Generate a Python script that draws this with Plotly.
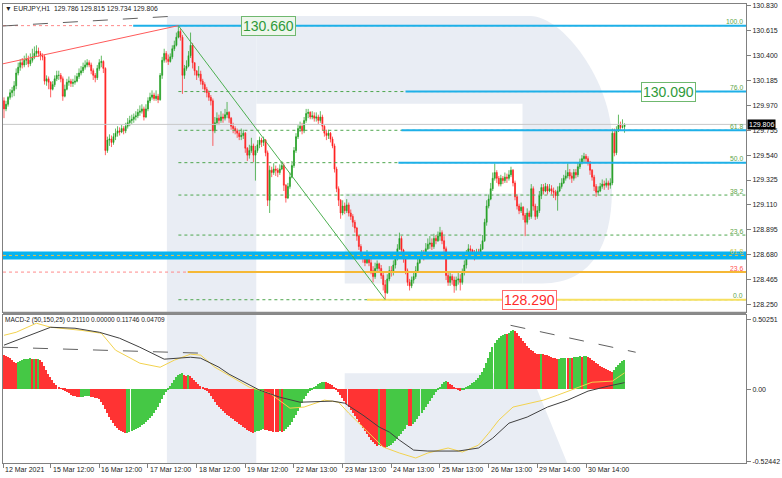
import plotly.graph_objects as go

# ---------------- data ----------------
first_open = 130.01
close = [
129.94,129.98,130.04,130.08,130.10,130.14,130.25,130.30,130.34,130.32,
130.36,130.37,130.33,130.36,130.39,130.42,130.44,130.42,130.40,130.39,
130.18,130.20,130.17,130.11,130.15,130.20,130.23,130.23,130.20,130.05,
130.11,130.17,130.18,130.16,130.17,130.18,130.22,130.25,130.27,130.30,
130.32,130.34,130.32,130.27,130.23,130.21,130.29,130.34,130.35,130.29,
129.58,129.67,129.68,129.65,129.70,129.73,129.75,129.74,129.77,129.75,
129.79,129.82,129.84,129.85,129.87,129.88,129.91,129.92,129.94,129.87,
129.94,130.01,130.04,130.06,130.03,130.05,130.02,130.23,130.36,130.42,
130.37,130.35,130.39,130.46,130.49,130.56,130.61,130.56,130.23,130.29,
130.31,130.40,130.49,130.34,130.27,130.23,130.24,130.18,130.15,130.11,
130.08,130.04,130.01,129.75,129.82,129.86,129.84,129.87,129.86,129.89,
129.91,129.86,129.79,129.77,129.75,129.73,129.70,129.71,129.73,129.60,
129.54,129.58,129.62,129.54,129.58,129.63,129.67,129.65,129.67,129.56,
129.15,129.41,129.39,129.42,129.41,129.39,129.42,129.45,129.28,129.17,
129.27,129.35,129.45,129.58,129.70,129.77,129.79,129.75,129.84,129.90,
129.91,129.87,129.88,129.86,129.87,129.84,129.87,129.79,129.73,129.71,
129.73,129.68,129.62,129.42,129.25,129.15,129.04,129.10,129.06,129.11,
129.04,129.01,128.96,128.91,128.84,128.75,128.67,128.65,128.61,128.67,
128.61,128.54,128.49,128.56,128.60,128.56,128.50,128.42,128.35,128.47,
128.54,128.53,128.59,128.65,128.73,128.82,128.72,128.65,128.54,128.44,
128.41,128.46,128.49,128.54,128.61,128.66,128.68,128.66,128.73,128.77,
128.78,128.75,128.82,128.80,128.84,128.87,128.80,128.73,128.50,128.44,
128.49,128.46,128.41,128.46,128.47,128.44,128.53,128.59,128.67,128.73,
128.72,128.68,128.66,128.70,128.68,128.73,128.80,128.96,129.10,129.16,
129.25,129.34,129.39,129.34,129.29,129.34,129.32,129.35,129.34,129.37,
129.41,129.30,129.18,129.10,129.06,129.09,129.02,128.96,129.04,129.01,
129.25,129.10,129.01,129.06,129.19,129.26,129.23,129.27,129.23,129.25,
129.23,129.22,129.19,129.23,129.27,129.30,129.34,129.36,129.39,129.36,
129.34,129.39,129.37,129.44,129.48,129.51,129.53,129.51,129.48,129.41,
129.35,129.27,129.22,129.23,129.27,129.29,129.28,129.30,129.28,129.30,
129.73,129.56,129.75,129.80,129.78,129.786,129.806]
high = [
130.04,130.01,130.05,130.11,130.13,130.18,130.29,130.34,130.37,130.38,
130.40,130.42,130.40,130.42,130.46,130.48,130.49,130.47,130.44,130.42,
130.41,130.23,130.22,130.18,130.18,130.23,130.27,130.27,130.25,130.22,
130.15,130.20,130.22,130.20,130.20,130.23,130.25,130.29,130.31,130.34,
130.36,130.37,130.36,130.34,130.29,130.25,130.32,130.37,130.40,130.36,
130.30,129.70,129.72,129.71,129.73,129.77,129.79,129.78,129.80,129.79,
129.82,129.86,129.88,129.89,129.90,129.92,129.94,129.97,129.98,129.96,
129.98,130.04,130.08,130.10,130.08,130.10,130.07,130.25,130.39,130.46,
130.44,130.41,130.42,130.49,130.53,130.60,130.66,130.63,130.58,130.32,
130.36,130.44,130.60,130.51,130.34,130.27,130.31,130.27,130.20,130.17,
130.13,130.10,130.06,130.03,129.87,129.91,129.89,129.92,129.90,129.94,
130.00,129.92,129.87,129.82,129.79,129.77,129.75,129.77,129.76,129.74,
129.61,129.63,129.69,129.64,129.62,129.67,129.70,129.69,129.70,129.68,
129.58,129.45,129.44,129.47,129.45,129.43,129.46,129.49,129.47,129.29,
129.30,129.39,129.49,129.61,129.73,129.80,129.83,129.82,129.87,129.94,
129.94,129.92,129.92,129.91,129.91,129.89,129.92,129.89,129.80,129.76,
129.76,129.74,129.70,129.64,129.44,129.27,129.16,129.15,129.13,129.16,
129.13,129.07,129.03,128.98,128.92,128.85,128.77,128.70,128.67,128.72,
128.70,128.65,128.58,128.61,128.63,128.61,128.59,128.53,128.46,128.51,
128.58,128.58,128.63,128.68,128.77,128.87,128.84,128.73,128.66,128.56,
128.47,128.49,128.53,128.58,128.65,128.70,128.72,128.72,128.78,128.82,
128.84,128.82,128.86,128.85,128.88,128.92,128.89,128.84,128.75,128.53,
128.53,128.51,128.49,128.49,128.53,128.51,128.56,128.63,128.72,128.77,
128.76,128.73,128.72,128.73,128.73,128.77,128.85,128.99,129.15,129.20,
129.30,129.39,129.47,129.41,129.36,129.37,129.36,129.39,129.38,129.41,
129.44,129.42,129.32,129.20,129.12,129.13,129.10,129.04,129.08,129.06,
129.29,129.27,129.12,129.10,129.23,129.29,129.29,129.30,129.29,129.29,
129.28,129.26,129.24,129.27,129.30,129.34,129.37,129.41,129.47,129.42,
129.39,129.42,129.42,129.48,129.51,129.54,129.56,129.55,129.53,129.49,
129.42,129.37,129.29,129.27,129.30,129.33,129.32,129.34,129.32,129.34,
129.77,129.77,129.79,129.89,129.83,129.85,129.815]
low = [
129.86,129.92,129.96,130.02,130.04,130.05,130.11,130.23,130.27,130.29,
130.30,130.32,130.30,130.31,130.34,130.37,130.39,130.39,130.36,130.36,
130.15,130.14,130.11,130.04,130.10,130.13,130.18,130.19,130.17,130.01,
130.04,130.10,130.14,130.13,130.13,130.15,130.17,130.20,130.23,130.25,
130.28,130.30,130.30,130.24,130.19,130.17,130.19,130.27,130.30,130.25,
129.54,129.56,129.62,129.61,129.63,129.67,129.70,129.71,129.73,129.72,
129.73,129.77,129.79,129.81,129.82,129.84,129.86,129.88,129.90,129.84,
129.86,129.92,129.99,130.02,130.01,130.01,129.99,130.01,130.20,130.34,
130.34,130.32,130.34,130.37,130.44,130.48,130.55,130.53,130.07,130.20,
130.27,130.30,130.38,130.29,130.23,130.19,130.21,130.15,130.11,130.08,
130.04,130.01,129.97,129.62,129.73,129.80,129.80,129.82,129.82,129.84,
129.86,129.82,129.76,129.73,129.72,129.69,129.67,129.67,129.68,129.56,
129.49,129.51,129.56,129.48,129.32,129.56,129.60,129.61,129.62,129.53,
129.10,129.04,129.35,129.37,129.36,129.35,129.37,129.41,129.23,129.13,
129.16,129.25,129.34,129.43,129.56,129.68,129.74,129.72,129.73,129.82,
129.86,129.85,129.85,129.83,129.83,129.81,129.82,129.75,129.70,129.67,
129.68,129.65,129.60,129.39,129.22,129.10,128.99,129.02,129.03,129.04,
129.01,128.98,128.92,128.87,128.80,128.72,128.65,128.61,128.58,128.60,
128.58,128.51,128.44,128.47,128.53,128.53,128.47,128.37,128.29,128.34,
128.45,128.49,128.50,128.56,128.63,128.72,128.68,128.61,128.51,128.41,
128.37,128.39,128.43,128.47,128.53,128.60,128.65,128.63,128.65,128.72,
128.73,128.72,128.73,128.77,128.79,128.80,128.77,128.70,128.46,128.41,
128.41,128.42,128.35,128.37,128.42,128.37,128.42,128.50,128.56,128.65,
128.68,128.65,128.63,128.65,128.65,128.66,128.72,128.79,128.93,129.08,
129.15,129.23,129.32,129.30,129.27,129.27,129.29,129.30,129.30,129.32,
129.35,129.27,129.15,129.07,129.03,129.04,128.98,128.84,128.94,128.98,
128.99,129.06,128.98,128.99,129.04,129.16,129.20,129.22,129.20,129.22,
129.20,129.17,129.15,129.06,129.22,129.25,129.29,129.32,129.34,129.33,
129.30,129.32,129.34,129.35,129.42,129.46,129.48,129.48,129.45,129.37,
129.32,129.23,129.18,129.19,129.22,129.25,129.24,129.26,129.24,129.25,
129.28,129.53,129.54,129.74,129.75,129.77,129.734]

hist = [
0.245,0.237,0.230,0.223,0.209,0.194,0.187,0.194,0.201,0.209,
0.212,0.215,0.218,0.219,0.214,0.217,0.213,0.216,0.209,0.194,
0.165,0.137,0.108,0.086,0.065,0.043,0.029,0.014,0.004,-0.007,
-0.014,-0.022,-0.032,-0.043,-0.050,-0.054,-0.058,-0.061,-0.058,-0.057,
-0.054,-0.053,-0.050,-0.058,-0.061,-0.065,-0.068,-0.072,-0.094,-0.115,
-0.144,-0.173,-0.201,-0.223,-0.245,-0.266,-0.281,-0.295,-0.306,-0.313,
-0.320,-0.317,-0.309,-0.302,-0.295,-0.288,-0.281,-0.273,-0.263,-0.252,
-0.237,-0.223,-0.209,-0.194,-0.173,-0.151,-0.129,-0.101,-0.072,-0.043,
-0.022,-0.004,0.022,0.043,0.065,0.086,0.101,0.108,0.112,0.101,
0.094,0.097,0.090,0.079,0.065,0.050,0.036,0.022,0.007,-0.004,
-0.014,-0.029,-0.050,-0.072,-0.094,-0.115,-0.129,-0.144,-0.158,-0.173,
-0.187,-0.198,-0.209,-0.219,-0.230,-0.241,-0.252,-0.263,-0.273,-0.284,
-0.295,-0.302,-0.309,-0.317,-0.313,-0.306,-0.302,-0.295,-0.291,-0.295,
-0.299,-0.302,-0.306,-0.308,-0.309,-0.311,-0.306,-0.308,-0.302,-0.291,
-0.277,-0.259,-0.237,-0.212,-0.187,-0.158,-0.129,-0.101,-0.072,-0.050,
-0.029,-0.014,-0.004,0.007,0.022,0.032,0.040,0.047,0.050,0.047,
0.043,0.036,0.025,0.011,-0.004,-0.022,-0.043,-0.065,-0.086,-0.108,
-0.129,-0.151,-0.173,-0.194,-0.216,-0.237,-0.259,-0.281,-0.302,-0.324,
-0.345,-0.367,-0.385,-0.399,-0.410,-0.406,-0.414,-0.421,-0.424,-0.421,
-0.414,-0.403,-0.388,-0.374,-0.360,-0.342,-0.324,-0.306,-0.288,-0.262,
-0.265,-0.267,-0.255,-0.237,-0.216,-0.194,-0.173,-0.151,-0.129,-0.108,
-0.086,-0.065,-0.043,-0.022,-0.004,0.014,0.032,0.047,0.054,0.047,
0.036,0.025,0.014,0.004,-0.007,-0.013,-0.011,-0.004,0.007,0.018,
0.029,0.040,0.050,0.065,0.079,0.097,0.119,0.151,0.187,0.223,
0.263,0.302,0.331,0.353,0.367,0.378,0.388,0.396,0.392,0.403,
0.414,0.424,0.414,0.399,0.381,0.363,0.345,0.327,0.309,0.295,
0.281,0.270,0.259,0.252,0.248,0.252,0.248,0.245,0.241,0.237,
0.230,0.223,0.219,0.216,0.218,0.220,0.222,0.224,0.222,0.224,
0.222,0.226,0.228,0.231,0.234,0.231,0.235,0.237,0.230,0.219,
0.209,0.198,0.187,0.176,0.165,0.155,0.147,0.140,0.133,0.126,
0.122,0.138,0.155,0.170,0.186,0.200,0.2111]

macd_x = [0, 23, 35, 47, 57, 67, 79, 84, 92, 97, 106, 111, 126, 136, 146, 162, 168, 177,
          185, 190, 195, 202, 209, 224, 234, 241, 249, 258, 268, 278, 288, 298, 306]
macd_v = [0.317, 0.446, 0.439, 0.410, 0.367, 0.302, 0.216, 0.223, 0.230, 0.223, 0.158, 0.108,
          -0.007, -0.058, -0.094, -0.086, -0.101, -0.187, -0.273, -0.309, -0.367, -0.439, -0.446,
          -0.446, -0.424, -0.353, -0.245, -0.201, -0.129, -0.079, -0.014, 0.022, 0.04709]
signal_x = [0, 6, 16, 23, 38, 48, 55, 67, 77, 84, 92, 97, 104, 111, 121, 131, 141, 148, 158,
            165, 170, 180, 187, 195, 203, 209, 219, 226, 234, 239, 244, 251, 258, 266, 273,
            283, 290, 300, 306]
signal_v = [0.388, 0.410, 0.475, 0.446, 0.424, 0.403, 0.281, 0.187, 0.158, 0.209, 0.252, 0.245,
            0.158, 0.101, 0.014, -0.029, -0.137, -0.129, -0.079, -0.094, -0.173, -0.317, -0.417,
            -0.460, -0.496, -0.460, -0.424, -0.453, -0.403, -0.317, -0.223, -0.129, -0.108,
            -0.079, -0.043, 0.014, 0.050, 0.058, 0.11746]

price_ticks = [130.830, 130.615, 130.400, 130.185, 129.970, 129.755, 129.540,
               129.325, 129.110, 128.895, 128.680, 128.465, 128.250]
macd_ticks = [0.50251, 0.0, -0.52442]
macd_tick_text = ["0.50251", "0.00", "-0.52442"]
date_pos = [-0.49, 23, 47, 71, 95, 119, 143, 167, 191, 215, 239, 263, 287]
date_labels = ["12 Mar 2021", "15 Mar 12:00", "16 Mar 12:00", "17 Mar 12:00", "18 Mar 12:00",
               "19 Mar 12:00", "22 Mar 13:00", "23 Mar 13:00", "24 Mar 13:00", "25 Mar 13:00",
               "26 Mar 13:00", "29 Mar 14:00", "30 Mar 14:00"]
fib_levels = ["100.0", "76.0", "61.8", "50.0", "38.2", "23.6", "0.0"]
fib_prices = [130.660, 130.090, 129.755, 129.475, 129.195, 128.849, 128.290]
fib2_levels = ["61.8", "23.6"]
fib2_prices = [128.673, 128.529]
last_price = 129.806
peak_idx, peak_price = 86, 130.660
trough_idx, trough_price = 188, 128.290
target_prices = [130.660, 130.090, 128.290]
title_text = "\u25bc EURJPY,H1  129.786 129.815 129.734 129.806"
macd_title = "MACD-2 (50,150,25) 0.21110 0.00000 0.11746 0.04709"

# ---------------- geometry / style ----------------
W, H = 782, 478
ML, MR, MT, MB = 2, 32, 3, 15
PW, PH = W - ML - MR, H - MT - MB
X_RANGE = [-0.49, 365.9]
Y_RANGE = [128.181, 130.847]
M_RANGE = [-0.532, 0.532]
FONT = "Liberation Sans, Arial, DejaVu Sans, sans-serif"
GREEN_C, RED_C = "#1f9d1f", "#ff2020"
GREEN_H, RED_H = "#45c845", "#ff3333"
CYAN = "#1eb0e8"
FIBG = "#4ea64e"
WM = "#e9edf4"


def px_x(px):
    return (px - ML) / PW


def px_y(py):
    return (H - MB - py) / PH


idx = list(range(len(close)))
opens = [first_open] + close[:-1]
hcolors = [GREEN_H if i > 0 and hist[i] > hist[i - 1] else RED_H for i in range(len(hist))]

fig = go.Figure()
fig.add_trace(go.Candlestick(
    x=idx, open=opens, high=high, low=low, close=close,
    increasing=dict(line=dict(color=GREEN_C, width=0.7), fillcolor=GREEN_C),
    decreasing=dict(line=dict(color=RED_C, width=0.7), fillcolor=RED_C),
    whiskerwidth=0, xaxis="x", yaxis="y", showlegend=False, hoverinfo="skip"))
fig.add_trace(go.Bar(x=idx, y=hist, marker=dict(color=hcolors, line=dict(width=0)),
                     width=0.72, xaxis="x2", yaxis="y2", showlegend=False, hoverinfo="skip"))
fig.add_trace(go.Scatter(x=signal_x, y=signal_v, mode="lines", line=dict(color="#f2d24e", width=1),
                         xaxis="x2", yaxis="y2", showlegend=False, hoverinfo="skip"))
fig.add_trace(go.Scatter(x=macd_x, y=macd_v, mode="lines", line=dict(color="#404040", width=1),
                         xaxis="x2", yaxis="y2", showlegend=False, hoverinfo="skip"))

shapes = []


def prect(x0, y0, x1, y1, **kw):
    shapes.append(dict(type="rect", xref="paper", yref="paper", x0=px_x(x0), x1=px_x(x1),
                       y0=px_y(y1), y1=px_y(y0), **kw))


def ppath(cmds, **kw):
    parts = []
    for c in cmds:
        if isinstance(c, str):
            parts.append(c)
        else:
            parts.append(f"{px_x(c[0]):.5f},{px_y(c[1]):.5f}")
    shapes.append(dict(type="path", xref="paper", yref="paper", path=" ".join(parts), **kw))


wm = dict(fillcolor=WM, line=dict(width=0), layer="below")
prect(167, 15, 257, 463, **wm)
prect(257, 15, 533, 103, **wm)
ppath(["M", (525, 15), "L", (533, 15), "C", (565, 15), (615, 80), (615, 140), "L", (615, 190),
       "C", (615, 250), (590, 283), (545, 283), "L", (525, 283), "Z"], **wm)
prect(346, 193, 525, 283, **wm)
ppath(["M", (346, 373), "L", (533, 373), "L", (570, 463), "L", (346, 463), "Z"], **wm)


def seg(x0, y0, x1, y1, color, width=1, dash="solid", xr="x", yr="y"):
    shapes.append(dict(type="line", xref=xr, yref=yr, x0=x0, y0=y0, x1=x1, y1=y1,
                       line=dict(color=color, width=width, dash=dash), layer="above"))


XE = X_RANGE[1]
XS = X_RANGE[0]
# current price line
seg(XS, last_price, XE, last_price, "#c8c8c8", 1)
# second fib: blue band + dotted, and 23.6
seg(XS, fib2_prices[0], XE, fib2_prices[0], "#07b3ef", 8)
seg(XS, fib2_prices[0], XE, fib2_prices[0], "#f0c040", 1, "dot")
seg(XS, fib2_prices[1], 90.6, fib2_prices[1], "#ff8a8a", 1, "dot")
seg(90.6, fib2_prices[1], XE, fib2_prices[1], "#f5b835", 2)
# main fib dotted levels
for p in fib_prices:
    seg(peak_idx, p, XE, p, FIBG, 1, "dot")
# cyan target levels
seg(XS, fib_prices[0], 63.7, fib_prices[0], "#ff8a8a", 1, "dot")
seg(63.7, fib_prices[0], XE, fib_prices[0], CYAN, 2)
seg(198, fib_prices[1], XE, fib_prices[1], CYAN, 2)
seg(196, fib_prices[2], XE, fib_prices[2], CYAN, 2)
seg(194.5, fib_prices[3], XE, fib_prices[3], CYAN, 2)
seg(179, fib_prices[6], XE, fib_prices[6], "#f7e060", 2)
# trendlines
seg(XS, 130.33, peak_idx, peak_price, "#ff5a5a", 1)
seg(XS, 130.657, peak_idx, 130.744, "#606060", 1, "longdash")
seg(peak_idx, peak_price, trough_idx, trough_price, "#4caf50", 1)
# macd dashed
seg(XS, 0.302, 98, 0.259, "#606060", 1, "longdash", "x2", "y2")
seg(249.8, 0.460, 311.5, 0.266, "#606060", 1, "longdash", "x2", "y2")
# panel separator
prect(ML, 311.5, W - MR, 314.5, fillcolor="#8a8a8a", line=dict(width=0), layer="above")

ann = []


def text(x, y, s, xref="paper", yref="paper", size=7, color="#222222", xanchor="left",
         yanchor="middle", **kw):
    ann.append(dict(x=x, y=y, xref=xref, yref=yref, text=s, showarrow=False, xanchor=xanchor,
                    yanchor=yanchor, font=dict(family=FONT, size=size, color=color), **kw))


text(px_x(2), px_y(8), title_text, size=6.8)
text(px_x(2), px_y(320), macd_title, size=6.5)
for pos, lab in zip(date_pos, date_labels):
    text(pos, px_y(470), lab, xref="x2", xshift=0)
for lab, p in zip(fib_levels, fib_prices):
    text(px_x(749), p, lab, yref="y", size=6.8, color="#5fa64a", xanchor="right", yshift=4)
text(px_x(749), fib2_prices[0], fib2_levels[0], yref="y", size=6.8, color="#c9c64a", xanchor="right", yshift=4)
text(px_x(749), fib2_prices[1], fib2_levels[1], yref="y", size=6.8, color="#ff5050", xanchor="right", yshift=4)
# target boxes
box_x = [269, 672, 532]
box_col = ["#2f9a3a", "#2f9a3a", "#ff2a2a"]
box_bd = ["#6fb86f", "#6fb86f", "#ff6a6a"]
box_bg = ["#eef6ec", "#ffffff", "#ffffff"]
for bx, p, c, bd, bg in zip(box_x, target_prices, box_col, box_bd, box_bg):
    ann.append(dict(x=px_x(bx), y=p, xref="paper", yref="y", text=f"{p:.3f}", showarrow=False,
                    xanchor="center", yanchor="middle", bgcolor=bg, bordercolor=bd, borderwidth=1,
                    borderpad=1, font=dict(family=FONT, size=14, color=c)))
# last price tag
ann.append(dict(x=px_x(751), y=last_price, xref="paper", yref="y", text=f"{last_price:.3f}",
                showarrow=False, xanchor="left", yanchor="middle", bgcolor="#000000",
                borderpad=1, font=dict(family=FONT, size=7, color="#ffffff")))

axis_common = dict(showgrid=False, zeroline=False, showline=True, mirror=True,
                   linecolor="#808080", linewidth=1)
fig.update_layout(
    width=W, height=H, margin=dict(l=ML, r=MR, t=MT, b=MB, pad=0),
    paper_bgcolor="#ffffff", plot_bgcolor="#ffffff", showlegend=False,
    font=dict(family=FONT, size=7, color="#222222"),
    xaxis=dict(domain=[0, 1], range=X_RANGE, anchor="y", showticklabels=False, ticks="",
               rangeslider=dict(visible=False), fixedrange=True, **axis_common),
    yaxis=dict(domain=[px_y(312), px_y(3)], range=Y_RANGE, side="right", anchor="x",
               tickvals=price_ticks, ticktext=[f"{v:.3f}" for v in price_ticks],
               ticks="outside", ticklen=4, tickcolor="#808080",
               tickfont=dict(family=FONT, size=7, color="#222222"), **axis_common),
    xaxis2=dict(domain=[0, 1], range=X_RANGE, anchor="y2", tickvals=date_pos, ticks="outside",
                ticklen=4, tickcolor="#808080", showticklabels=False, **axis_common),
    yaxis2=dict(domain=[0, px_y(315)], range=M_RANGE, side="right", anchor="x2",
                tickvals=macd_ticks, ticktext=macd_tick_text, ticks="outside", ticklen=4,
                tickcolor="#808080", tickfont=dict(family=FONT, size=7, color="#222222"),
                **axis_common),
    shapes=shapes, annotations=ann, bargap=0,
)
fig.write_html("out.html", config={"displayModeBar": False},
               post_script="document.body.style.margin='0';document.body.style.padding='0';"
                           "document.documentElement.style.overflow='hidden';")
